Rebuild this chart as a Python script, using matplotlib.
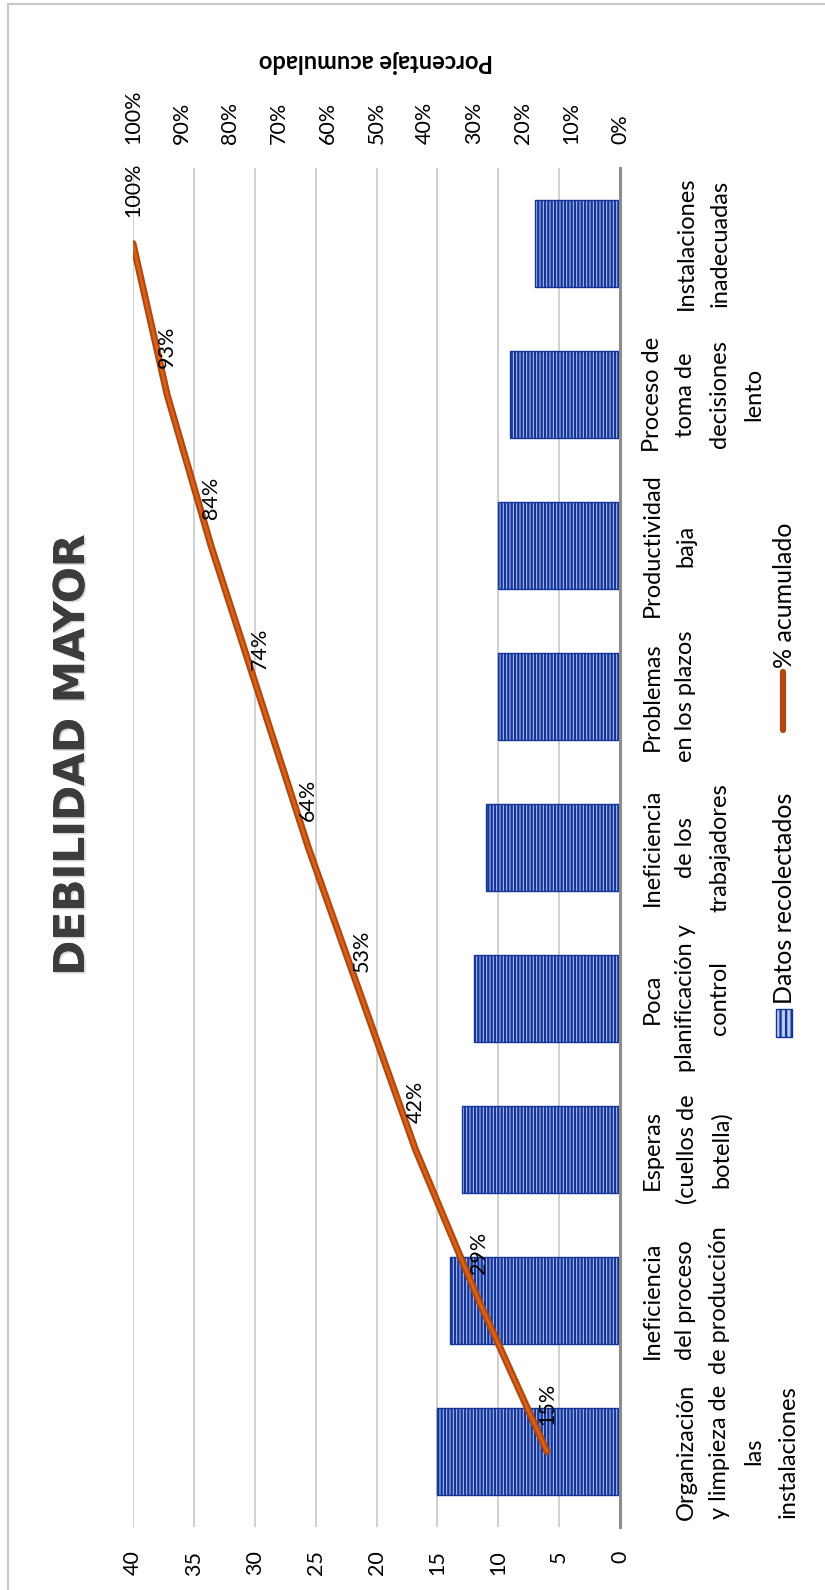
import matplotlib
matplotlib.use('Agg')
import matplotlib.pyplot as plt
import matplotlib.patheffects as pe
from matplotlib.patches import Rectangle
from matplotlib.lines import Line2D
import numpy as np

# ----------------------------------------------------------------------
# Datos
# ----------------------------------------------------------------------
categorias = [
    "\nOrganización\ny limpieza de\nlas\ninstalaciones",
    "Ineficiencia\ndel proceso\nde producción",
    "Esperas\n(cuellos de\nbotella)",
    "Poca\nplanificación y\ncontrol",
    "Ineficiencia\nde los\ntrabajadores",
    "Problemas\nen los plazos",
    "Productividad\nbaja",
    "Proceso de\ntoma de\ndecisiones\nlento",
    "\nInstalaciones\ninadecuadas",
]
datos = [15, 14, 13, 12, 11, 10, 10, 9, 7]
acumulado = [0.15, 0.29, 0.42, 0.53, 0.64, 0.74, 0.84, 0.93, 1.00]
ticks_datos = [0, 5, 10, 15, 20, 25, 30, 35, 40]
ticks_pct = [0.0, 0.1, 0.2, 0.3, 0.4, 0.5, 0.6, 0.7, 0.8, 0.9, 1.0]

BAR_FACE = '#bccbf0'
BAR_COLOR = '#14359a'
LINE_DARK = '#b4460d'
LINE_LIGHT = '#d4621a'
GRID_COLOR = '#c4c4c4'
FS_NUM = 15.5     # numbers (ticks, data labels)
FS_CAT = 17       # category labels
FS_LEG = 18       # legend

plt.rcParams['font.family'] = ['Lato', 'DejaVu Sans']
plt.rcParams['hatch.linewidth'] = 1.7

W, H = 825, 1590


def fx(px):
    return px / W


def fy(py):
    return 1 - py / H


fig = plt.figure(figsize=(W / 100, H / 100), dpi=100)

# chart area border (only left/top visible in the crop)
fig.add_artist(Line2D([fx(8), fx(8)], [0, fy(4)], color='#c8c8c8', lw=1.5))
fig.add_artist(Line2D([fx(8), 1], [fy(4), fy(4)], color='#c8c8c8', lw=1.5))

# --- main axes: horizontal bars, value axis grows to the left ---
ax = fig.add_axes([fx(133), fy(1527), fx(620) - fx(133), fy(168) - fy(1527)])
pos = np.arange(len(categorias))
ax.barh(pos, datos, height=0.57, color=BAR_FACE, edgecolor=BAR_COLOR,
        linewidth=1.0, hatch='|||||', zorder=2)
ax.set_xlim(40, 0)
ax.set_ylim(-0.5, len(categorias) - 0.5)
ax.set_xticks(ticks_datos)
ax.tick_params(axis='x', length=0, pad=17, labelrotation=90, labelsize=FS_NUM)
ax.xaxis.grid(True, color=GRID_COLOR, linewidth=1.1)
ax.set_axisbelow(True)

ax.yaxis.tick_right()
ax.set_yticks(pos, categorias)
ax.tick_params(axis='y', length=0, pad=15.5, labelrotation=90, labelsize=FS_CAT)
for lbl in ax.get_yticklabels():
    lbl.set_ha('left')
    lbl.set_va('center')
    lbl.set_multialignment('center')
    lbl.set_linespacing(1.76)

for side in ['top', 'left', 'bottom']:
    ax.spines[side].set_visible(False)
ax.spines['right'].set_color('#8c8c8c')
ax.spines['right'].set_linewidth(2.2)

# --- secondary axis: cumulative percentage ---
ax2 = ax.twiny()
ax2.set_xlim(1.0, 0.0)
ax2.set_xticks(ticks_pct, [f'{t:.0%}' for t in ticks_pct])
ax2.tick_params(axis='x', length=0, pad=17, labelrotation=90, labelsize=FS_NUM)
for side in ax2.spines:
    ax2.spines[side].set_visible(False)

ax2.plot(acumulado, pos, color=LINE_DARK, lw=5.0, solid_capstyle='round', zorder=3)
ax2.plot(acumulado, pos, color=LINE_LIGHT, lw=2.0, solid_capstyle='round', zorder=3)
for v, p in zip(acumulado, pos):
    ax2.annotate(f'{v:.0%}', (v, p), xytext=(0, 19), textcoords='offset points',
                 rotation=90, ha='center', va='bottom', fontsize=FS_NUM, zorder=4)

# --- titles ---
fig.text(fx(72), fy(755), 'DEBILIDAD MAYOR', rotation=90, ha='center', va='center',
         fontsize=30.5, fontweight='bold', color='#3c3c3c', family='DejaVu Sans',
         path_effects=[pe.withSimplePatchShadow(offset=(1.2, -1.2), shadow_rgbFace='#b0b0b0',
                                                alpha=0.5), pe.Normal()])
fig.text(fx(376), fy(62), 'Porcentaje acumulado', rotation=180, ha='center', va='center',
         fontsize=17, fontweight='bold')

# --- legend (drawn by hand because the whole chart is rotated) ---
fig.add_artist(Rectangle((fx(776), fy(1037)), 16 / W, 28 / H, transform=fig.transFigure,
                         facecolor=BAR_FACE, edgecolor=BAR_COLOR, linewidth=1.0, hatch='|||'))
fig.text(fx(784), fy(1004), 'Datos recolectados', rotation=90, ha='center', va='bottom',
         fontsize=FS_LEG)
fig.add_artist(Line2D([fx(783), fx(783)], [fy(730), fy(672)], color=LINE_DARK, lw=4.5,
                      solid_capstyle='round'))
fig.text(fx(784), fy(668), '% acumulado', rotation=90, ha='center', va='bottom',
         fontsize=FS_LEG)

fig.savefig('out.png', dpi=100)
